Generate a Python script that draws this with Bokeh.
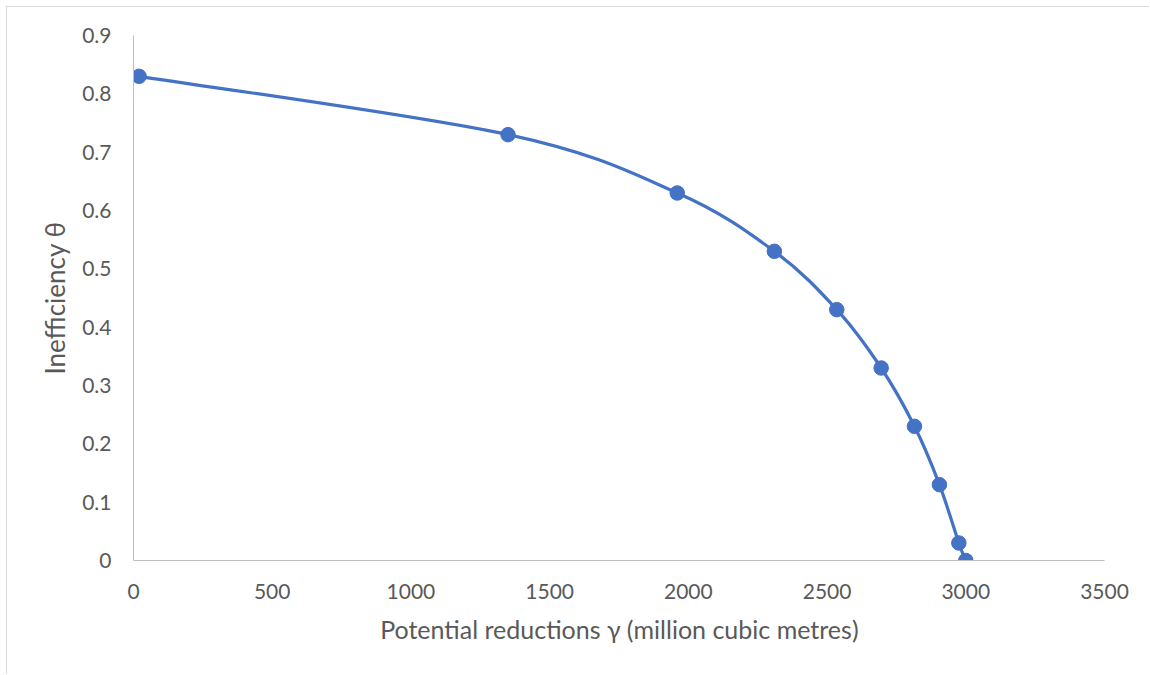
import numpy as np
from bokeh.plotting import figure
from bokeh.models import Range1d, FixedTicker
from bokeh.embed import file_html
from bokeh.resources import INLINE

# ---- data ----
reductions = [20, 1350, 1960, 2310, 2535, 2695, 2815, 2905, 2975, 3000]
inefficiency = [0.83, 0.73, 0.63, 0.53, 0.43, 0.33, 0.23, 0.13, 0.03, 0.0]
x_ticks = [0, 500, 1000, 1500, 2000, 2500, 3000, 3500]
x_tick_labels = ["0", "500", "1000", "1500", "2000", "2500", "3000", "3500"]
y_ticks = [0, 0.1, 0.2, 0.3, 0.4, 0.5, 0.6, 0.7, 0.8, 0.9]
y_tick_labels = ["0", "0.1", "0.2", "0.3", "0.4", "0.5", "0.6", "0.7", "0.8", "0.9"]
x_title = "Potential reductions γ (million cubic metres)"
y_title = "Inefficiency θ"

BLUE = "#4472C4"
TEXT = "#595959"
AXIS = "#BFBFBF"
FONT = "Lato"

p = figure(width=1143, height=668, output_backend="svg", toolbar_location=None,
           x_range=Range1d(0, 3500), y_range=Range1d(0, 0.9),
           min_border_left=126, min_border_right=46, min_border_top=28, min_border_bottom=115)
p.styles = {"position": "absolute", "left": "6px", "top": "6px",
            "border-left": "1px solid #D9D9D9", "border-top": "1px solid #D9D9D9"}
p.background_fill_color = "white"
p.border_fill_color = "white"
p.outline_line_color = None
p.xgrid.visible = False
p.ygrid.visible = False

# smooth curve (Excel-style smoothed line) through the data points
px = np.array(reductions, dtype=float)
py = np.array(inefficiency, dtype=float)
n = len(px)
x0, y0, x1, y1, cx0, cy0, cx1, cy1 = [], [], [], [], [], [], [], []
for i in range(n - 1):
    im1 = max(i - 1, 0)
    ip2 = min(i + 2, n - 1)
    x0.append(px[i]); y0.append(py[i])
    x1.append(px[i + 1]); y1.append(py[i + 1])
    cx0.append(px[i] + (px[i + 1] - px[im1]) / 6.0)
    cy0.append(py[i] + (py[i + 1] - py[im1]) / 6.0)
    cx1.append(px[i + 1] - (px[ip2] - px[i]) / 6.0)
    cy1.append(py[i + 1] - (py[ip2] - py[i]) / 6.0)
p.bezier(x0=x0, y0=y0, x1=x1, y1=y1, cx0=cx0, cy0=cy0, cx1=cx1, cy1=cy1,
         line_color=BLUE, line_width=3.2)
p.scatter(reductions, inefficiency, size=14.5, fill_color=BLUE, line_color=BLUE)

for ax, ticks, labels in ((p.xaxis[0], x_ticks, x_tick_labels), (p.yaxis[0], y_ticks, y_tick_labels)):
    ax.ticker = FixedTicker(ticks=ticks)
    ax.major_label_overrides = {t: l for t, l in zip(ticks, labels)}
    ax.major_tick_line_color = None
    ax.minor_tick_line_color = None
    ax.axis_line_color = AXIS
    ax.axis_line_width = 1
    ax.major_label_text_font = FONT
    ax.major_label_text_font_size = "21px"
    ax.major_label_text_color = TEXT
    ax.axis_label_text_font = FONT
    ax.axis_label_text_font_style = "normal"
    ax.axis_label_text_color = TEXT

p.xaxis.axis_label = x_title
p.yaxis.axis_label = y_title
p.xaxis.axis_label_text_font_size = "25px"
p.yaxis.axis_label_text_font_size = "26px"
p.xaxis.major_label_standoff = 17
p.yaxis.major_label_standoff = 16
p.xaxis.axis_label_standoff = 12
p.yaxis.axis_label_standoff = 8

open("out.html", "w").write(file_html(p, INLINE))
